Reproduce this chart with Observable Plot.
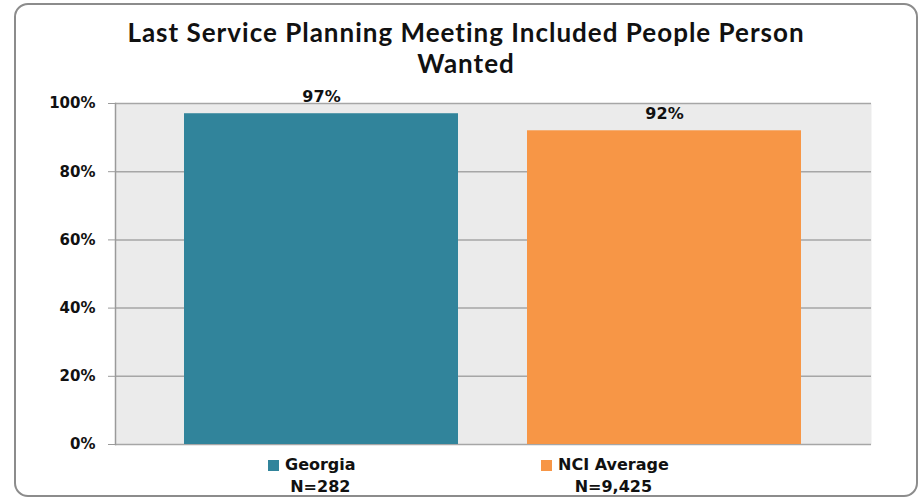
<!DOCTYPE html>
<html><head><meta charset="utf-8">
<script src="https://cdn.jsdelivr.net/npm/d3@7"></script>
<script src="https://cdn.jsdelivr.net/npm/@observablehq/plot@0.6"></script>
<style>
body{margin:0;background:#fff;}
#wrap{position:relative;width:924px;height:501px;overflow:hidden;font-family:Lato, sans-serif;}
#border{position:absolute;left:14px;top:3px;width:900px;height:490px;border:2px solid #8c8c8c;border-radius:14px;}
#title{position:absolute;left:14px;width:904px;top:17px;text-align:center;font-weight:bold;font-size:26px;letter-spacing:1px;line-height:31px;color:#111;}
#chart{position:absolute;left:0;top:70px;}
.item{position:absolute;top:454px;display:flex;align-items:flex-start;font-family:"DejaVu Sans",sans-serif;font-weight:bold;font-size:16px;color:#111;}
.sw{width:11px;height:11px;margin-top:6px;margin-right:6px;}
.col{text-align:center;line-height:22px;}
</style>
</head><body>
<div id="wrap">
  <div id="border"></div>
  <div id="title">Last Service Planning Meeting Included People Person<br>Wanted</div>
  <div id="chart"></div>
  <div id="legend"></div>
</div>
<script>
const categories = ["Georgia", "NCI Average"];
const values = [0.97, 0.92];
const valueLabels = ["97%", "92%"];
const nLabels = ["N=282", "N=9,425"];
const colors = ["#31849b", "#f79646"];
const yTicks = [0, 0.2, 0.4, 0.6, 0.8, 1];

const data = categories.map((c, i) => ({cat: c, value: values[i], label: valueLabels[i]}));

const chart = Plot.plot({
  width: 924,
  height: 384,
  marginTop: 33,
  marginBottom: 10,
  marginLeft: 115,
  marginRight: 53,
  style: {fontFamily: "DejaVu Sans", fontWeight: "bold", fontSize: "15px", color: "#111", background: "transparent"},
  x: {domain: categories, padding: 0.2, axis: null},
  y: {domain: [0, 1], label: null, axis: null},
  color: {domain: categories, range: colors},
  marks: [
    Plot.frame({fill: "#ebebeb", stroke: null}),
    Plot.ruleY(yTicks, {stroke: "#a6a6a6", strokeWidth: 1.5}),
    Plot.frame({anchor: "left", stroke: "#9a9a9a", strokeWidth: 1.5}),
    Plot.axisY({ticks: yTicks, tickFormat: d3.format(".0%"), tickSize: 7, tickPadding: 13, stroke: "#9a9a9a", fill: "#111", label: null}),
    Plot.barY(data, {x: "cat", y: "value", fill: "cat"}),
    Plot.text(data, {x: "cat", y: "value", text: "label", dy: -17, fill: "#111", fontSize: 16, fontFamily: "DejaVu Sans", fontWeight: "bold"})
  ]
});
document.getElementById("chart").appendChild(chart);

const legendPos = [268, 541];
const legend = document.getElementById("legend");
categories.forEach((c, i) => {
  const item = document.createElement("div");
  item.className = "item";
  item.style.left = legendPos[i] + "px";
  item.innerHTML = `<div class="sw" style="background:${colors[i]}"></div><div class="col"><div>${c}</div><div>${nLabels[i]}</div></div>`;
  legend.appendChild(item);
});
</script>
</body></html>
